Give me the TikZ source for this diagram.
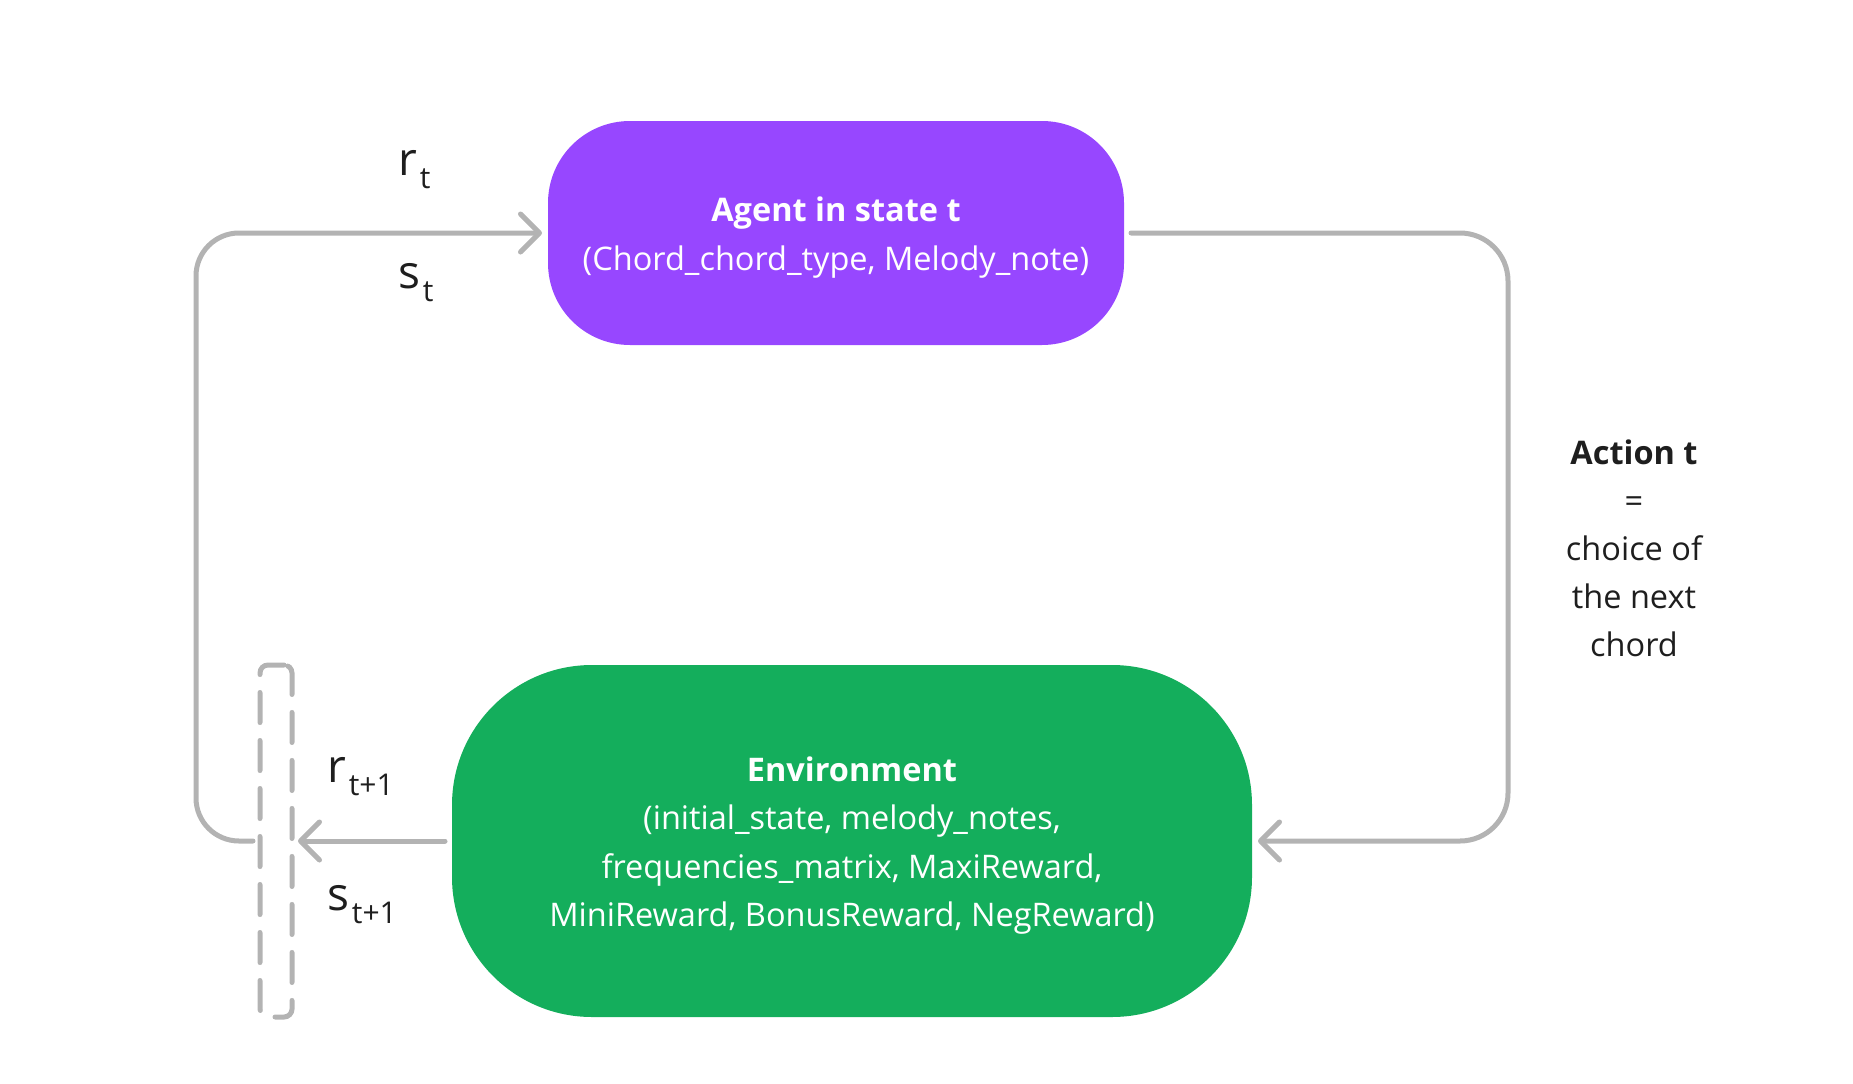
\documentclass[tikz,border=0pt]{standalone}
\usepackage{fontspec}
\setmainfont{Open Sans}
\usepackage{tikz}
\usetikzlibrary{arrows.meta,positioning}
\definecolor{agentpurple}{HTML}{9747FF}
\definecolor{envgreen}{HTML}{14AE5C}
\definecolor{linegray}{HTML}{B3B3B3}
\definecolor{labelblack}{HTML}{1E1E1E}
\newcommand{\steplabel}[2]{{\fontsize{46}{46}\selectfont #1}\kern3pt\raisebox{-13pt}{\fontsize{30}{30}\selectfont #2}}
\newcommand{\topgap}{\rule{0pt}{34pt}}

\begin{document}
\begin{tikzpicture}[
  x=1pt, y=-1pt,
  outer sep=0pt,
  box/.style={rectangle, align=center, text=white, font=\fontsize{32.5}{48.5}\selectfont},
  arr/.style={draw=linegray, line width=5pt, line cap=round, -{Straight Barb[length=19pt, width=38pt, round]}},
  lab/.style={anchor=base west, inner sep=0pt, text=labelblack}
]
\useasboundingbox (0,0) rectangle (1853,1084);
\node[box, fill=agentpurple, rounded corners=82pt, minimum width=576pt, minimum height=224pt] (agent) at (836,233) {\topgap\textbf{Agent in state t}\\(Chord\_chord\_type, Melody\_note)};
\node[box, fill=envgreen, rounded corners=140pt, minimum width=800pt, minimum height=352pt] (env) at (852,841) {\topgap\textbf{Environment}\\(initial\_state, melody\_notes,\\frequencies\_matrix, MaxiReward,\\MiniReward, BonusReward, NegReward)};
\node[draw=linegray, line width=5pt, dash pattern=on 30pt off 18pt, line cap=round, rounded corners=8pt, minimum width=32pt, minimum height=352pt] (tstep) at (276,841) {};

\coordinate (lc) at (196,233);
\coordinate (rc) at (1508,500);
\draw[arr, rounded corners=43pt] ([xshift=-7pt]tstep.west) -| (lc) -- ([xshift=-6pt]agent.west);
\draw[arr] ([xshift=-7pt]env.west) -- ([xshift=6pt]tstep.east);
\draw[arr, rounded corners=48pt] ([xshift=7pt]agent.east) -| (rc) |- ([xshift=6pt]env.east);

\node[lab] (rt) at (398,175) {\steplabel{r}{t}};
\node[lab] (st) at (398,288) {\steplabel{s}{t}};
\node[lab] (rnext) at (327,782) {\steplabel{r}{t+1}};
\node[lab] (snext) at (327,910) {\steplabel{s}{t+1}};
\node[text=labelblack, align=center, font=\fontsize{32.5}{48}\selectfont] (action) at (1634,548) {\textbf{Action t}\\=\\choice of\\the next\\chord};
\end{tikzpicture}
\end{document}
